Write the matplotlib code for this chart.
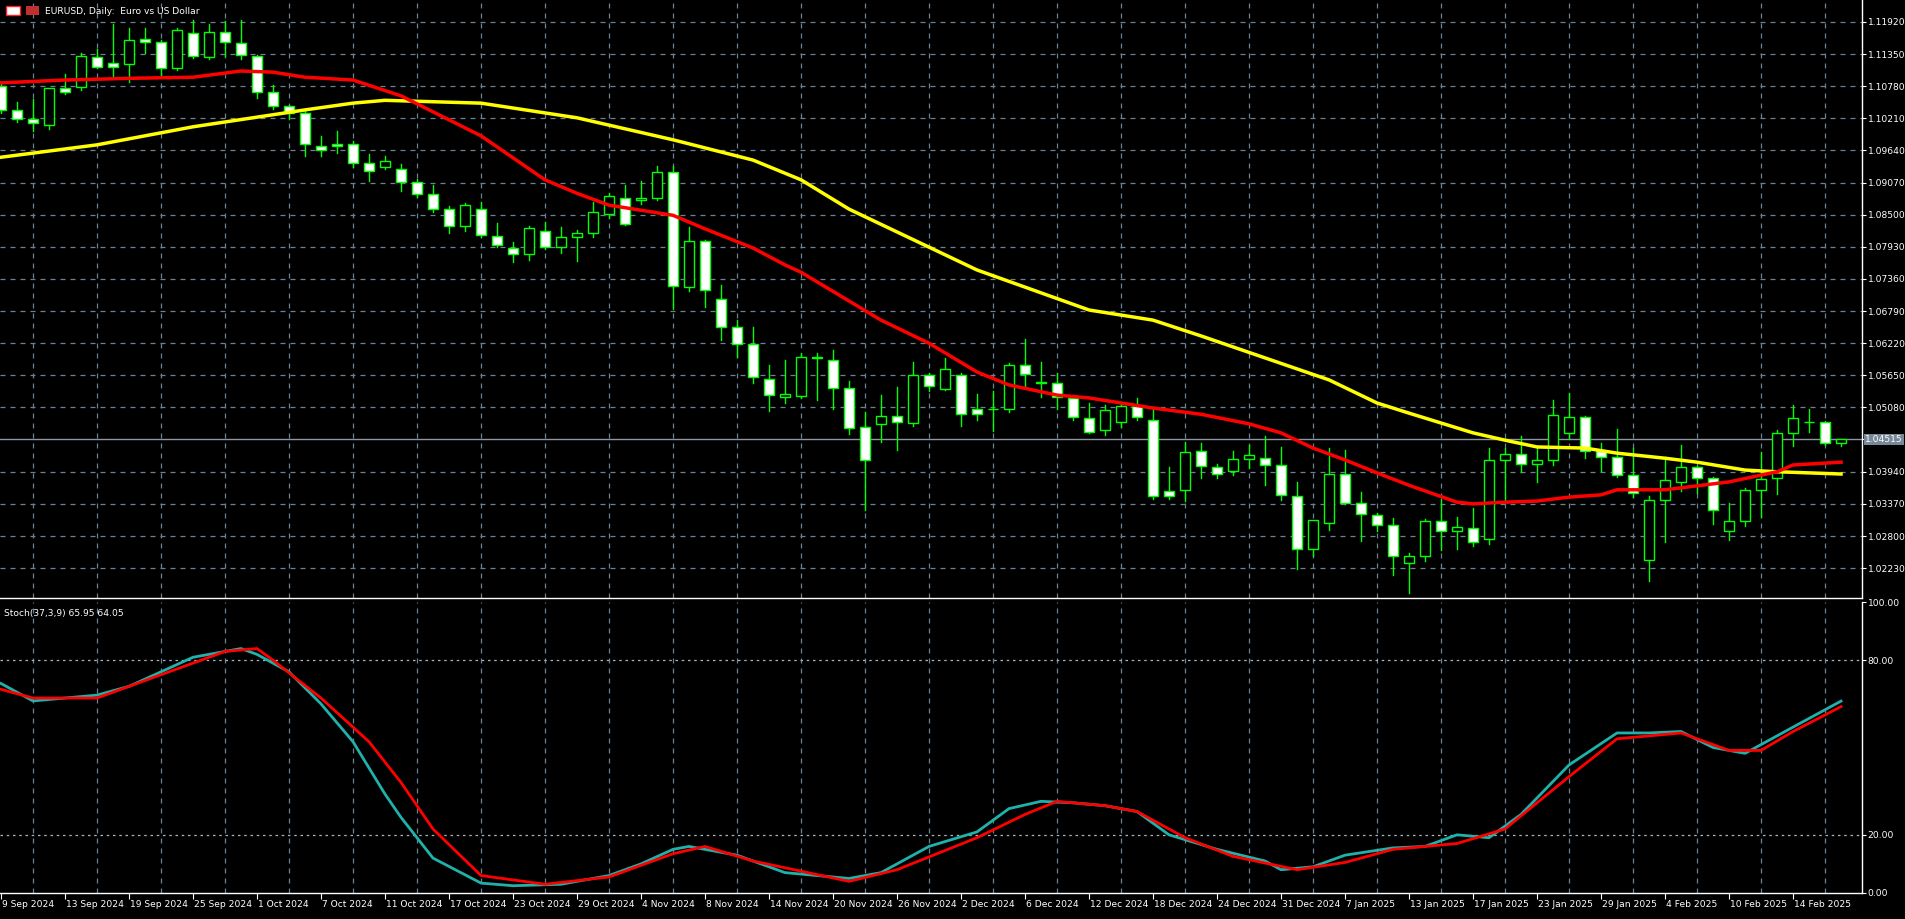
import matplotlib
matplotlib.use("Agg")
import matplotlib.pyplot as plt
from matplotlib.patches import Rectangle

opens = [1.1078,1.1036,1.1020,1.1009,1.1074,1.1076,1.1130,1.1120,1.1118,1.1162,1.1157,1.1111,1.1173,1.1130,1.1174,1.1155,1.1132,1.1067,1.1043,1.1030,
         1.0972,1.0976,1.0976,1.0941,1.0934,1.0931,1.0908,1.0887,1.0860,1.0830,1.0860,1.0812,1.0791,1.0780,1.0821,1.0793,1.0810,1.0817,1.0851,1.0880,
         1.0877,1.0879,1.0926,1.0722,1.0803,1.0700,1.0651,1.0621,1.0559,1.0527,1.0528,1.0598,1.0592,1.0543,1.0473,1.0479,1.0493,1.0481,1.0566,1.0541,
         1.0566,1.0505,1.0505,1.0505,1.0583,1.0553,1.0551,1.0525,1.0489,1.0468,1.0483,1.0510,1.0486,1.0360,1.0362,1.0431,1.0402,1.0395,1.0417,1.0418,
         1.0406,1.0351,1.0257,1.0303,1.0390,1.0339,1.0317,1.0300,1.0232,1.0245,1.0307,1.0289,1.0294,1.0275,1.0415,1.0425,1.0408,1.0415,1.0463,1.0491,
         1.0431,1.0420,1.0388,1.0238,1.0344,1.0376,1.0402,1.0383,1.0289,1.0306,1.0361,1.0383,1.0463,1.0482,1.0482,1.0445]
highs = [1.1085,1.1050,1.1055,1.1075,1.1099,1.1137,1.1144,1.1188,1.1181,1.1181,1.1160,1.1181,1.1195,1.1188,1.1193,1.1195,1.1134,1.1081,1.1045,1.1034,
         1.0990,1.0998,1.0980,1.0958,1.0955,1.0940,1.0914,1.0902,1.0866,1.0870,1.0872,1.0836,1.0802,1.0830,1.0838,1.0828,1.0823,1.0872,1.0889,1.0902,
         1.0909,1.0937,1.0937,1.0828,1.0805,1.0726,1.0664,1.0651,1.0584,1.0592,1.0605,1.0605,1.0610,1.0555,1.0500,1.0530,1.0545,1.0589,1.0570,1.0596,
         1.0570,1.0532,1.0537,1.0587,1.0629,1.0589,1.0569,1.0530,1.0516,1.0513,1.0517,1.0524,1.0508,1.0403,1.0447,1.0445,1.0407,1.0431,1.0442,1.0457,
         1.0438,1.0376,1.0309,1.0436,1.0432,1.0358,1.0320,1.0312,1.0250,1.0310,1.0346,1.0314,1.0329,1.0436,1.0437,1.0457,1.0437,1.0521,1.0533,1.0493,
         1.0445,1.0469,1.0437,1.0351,1.0420,1.0442,1.0404,1.0385,1.0339,1.0366,1.0429,1.0468,1.0513,1.0505,1.0484,1.04515]
lows = [1.1030,1.1015,1.0999,1.1003,1.1064,1.1072,1.1110,1.1095,1.1085,1.1137,1.1098,1.1106,1.1128,1.1126,1.1131,1.1126,1.1057,1.1038,1.1020,1.0955,
        1.0955,1.0960,1.0935,1.0910,1.0931,1.0892,1.0882,1.0855,1.0818,1.0822,1.0810,1.0792,1.0767,1.0770,1.0790,1.0782,1.0768,1.0810,1.0845,1.0832,
        1.0869,1.0876,1.0682,1.0715,1.0686,1.0628,1.0597,1.0552,1.0502,1.0516,1.0525,1.0521,1.0505,1.0461,1.0326,1.0447,1.0433,1.0476,1.0537,1.0539,
        1.0476,1.0486,1.0467,1.0500,1.0544,1.0527,1.0506,1.0485,1.0463,1.0459,1.0473,1.0486,1.0345,1.0345,1.0342,1.0383,1.0383,1.0388,1.0401,1.0370,
        1.0343,1.0221,1.0245,1.0291,1.0336,1.0271,1.0289,1.0211,1.0179,1.0236,1.0255,1.0257,1.0262,1.0265,1.0340,1.0394,1.0376,1.0406,1.0452,1.0418,
        1.0396,1.0385,1.0350,1.0201,1.0269,1.0360,1.0356,1.0302,1.0273,1.0297,1.0314,1.0355,1.0440,1.0464,1.0442,1.0440]
closes = [1.1036,1.1020,1.1013,1.1074,1.1067,1.1132,1.1113,1.1113,1.1160,1.1157,1.1111,1.1178,1.1132,1.1174,1.1157,1.1134,1.1067,1.1043,1.1030,1.0976,
          1.0964,1.0972,1.0941,1.0927,1.0945,1.0908,1.0887,1.0860,1.0830,1.0867,1.0814,1.0796,1.0780,1.0826,1.0793,1.0810,1.0817,1.0855,1.0883,1.0834,
          1.0880,1.0926,1.0724,1.0803,1.0716,1.0651,1.0621,1.0562,1.0530,1.0532,1.0598,1.0596,1.0543,1.0472,1.0415,1.0493,1.0482,1.0566,1.0546,1.0576,
          1.0496,1.0496,1.0505,1.0583,1.0567,1.0552,1.0527,1.0491,1.0465,1.0503,1.0510,1.0491,1.0351,1.0351,1.0429,1.0404,1.0390,1.0417,1.0424,1.0406,
          1.0353,1.0257,1.0308,1.0390,1.0339,1.0319,1.0300,1.0245,1.0245,1.0307,1.0289,1.0296,1.0269,1.0415,1.0425,1.0408,1.0414,1.0495,1.0491,1.0431,
          1.0420,1.0388,1.0356,1.0344,1.0379,1.0402,1.0383,1.0326,1.0306,1.0361,1.0382,1.0463,1.0489,1.0483,1.0445,1.04515]

ma_fast_idx = [0,4,8,12,15,17,19,22,25,30,34,36,38,40,42,44,47,49,50,55,58,61,63,66,68,72,75,78,80,82,84,86,88,91,92,94,96,98,100,101,104,108,111,112,115]
ma_fast = [1.1084,1.1089,1.1092,1.1094,1.1105,1.1103,1.1094,1.1089,1.1061,1.0990,1.0912,1.0888,1.0867,1.0858,1.0849,1.0825,1.0791,1.0761,1.0748,1.0663,
           1.0622,1.0571,1.0548,1.0530,1.0525,1.0507,1.0496,1.0479,1.0463,1.0436,1.0415,1.0392,1.0370,1.0340,1.0337,1.0340,1.0342,1.0349,1.0353,1.0362,
           1.0362,1.0376,1.0394,1.0406,1.0411]
ma_slow_idx = [0,6,12,19,22,24,30,36,42,47,50,53,61,68,72,75,83,86,88,92,94,96,99,101,104,106,109,111,115]
ma_slow = [1.0952,1.0974,1.1006,1.1036,1.1048,1.1053,1.1048,1.1022,1.0983,1.0947,1.0912,1.0860,1.0752,1.0681,1.0663,1.0635,1.0557,1.0516,1.0498,1.0463,
           1.0450,1.0438,1.0436,1.0427,1.0418,1.0411,1.0397,1.0394,1.0390]

stoch_main_idx = [0,2,4,6,8,10,12,14,15,16,18,20,22,24,25,27,30,32,35,38,40,42,43,46,49,53,55,58,61,63,65,67,69,71,73,76,79,80,82,84,87,89,91,93,95,98,101,103,105,107,109,112,115]
stoch_main = [72,66,67,68,71,76,81,83,84,82,76,65,52,34,26,12,3.4,2.5,3,6,10,15,16,13,7,5,7,16,21,29,31.5,31,30,28,20,15,11,8,9,13,15.5,16,20,19,27,44,55,55,55.5,50,48,57,65.95]
stoch_sig_idx = [0,2,6,10,14,16,17,20,23,25,27,30,34,38,42,44,47,53,56,61,64,66,69,71,74,77,81,84,87,91,94,98,101,105,108,110,112,115]
stoch_sig = [70,67,67,75,83,84,80,67,52,38,22,6,3,5.5,13.5,16,11,4,8,19,27,31.5,30,28,19,12.6,8,10.5,15,17,22,40,53,55,49,49,55.5,64.05]

date_idx = list(range(0, 113, 4))
date_labels = ["9 Sep 2024","13 Sep 2024","19 Sep 2024","25 Sep 2024","1 Oct 2024","7 Oct 2024","11 Oct 2024","17 Oct 2024",
               "23 Oct 2024","29 Oct 2024","4 Nov 2024","8 Nov 2024","14 Nov 2024","20 Nov 2024","26 Nov 2024","2 Dec 2024",
               "6 Dec 2024","12 Dec 2024","18 Dec 2024","24 Dec 2024","31 Dec 2024","7 Jan 2025","13 Jan 2025","17 Jan 2025",
               "23 Jan 2025","29 Jan 2025","4 Feb 2025","10 Feb 2025","14 Feb 2025"]
price_ticks = [1.02230,1.02800,1.03370,1.03940,1.04515,1.05080,1.05650,1.06220,1.06790,1.07360,1.07930,1.08500,1.09070,1.09640,1.10210,1.10780,1.11350,1.11920]
current_price = 1.04515

W, H = 1905, 919
fig = plt.figure(figsize=(W/100, H/100), dpi=100, facecolor='black')
axw = 1862/W
ax = fig.add_axes([0, 1-598/H, axw, 598/H], facecolor='black')
ax2 = fig.add_axes([0, (H-893)/H, axw, (893-602)/H], facecolor='black')
grid_c = '#6f8090'
xmin, xmax = -0.06, 116.31
FS = 6.6
for a in (ax, ax2):
    a.set_xlim(xmin, xmax)
    for s in a.spines.values():
        s.set_color('white'); s.set_linewidth(1)
    a.spines['left'].set_visible(False)
    a.spines['top'].set_visible(False)
    for g in range(2, 116, 4):
        a.axvline(g, color=grid_c, ls=(0, (4, 4)), lw=0.9, zorder=0)
    a.yaxis.tick_right()
    a.tick_params(axis='y', colors='white', labelsize=FS, length=3, pad=1)
    a.tick_params(axis='x', colors='white', length=0)
ax.set_xticks([])
ax.set_ylim(1.0170, 1.1231)
ax.set_yticks(price_ticks)
ax.set_yticklabels(["%.5f" % p if p != current_price else "" for p in price_ticks])
for p in price_ticks:
    if p != current_price:
        ax.axhline(p, color=grid_c, ls=(0, (4, 4)), lw=0.9, zorder=0)
ax.axhline(current_price, color='#8a96a3', lw=1, zorder=0.5)
ax.text(1.0015, current_price, "%.5f" % current_price, transform=ax.get_yaxis_transform(), color='white',
        fontsize=FS, va='center', ha='left', clip_on=False,
        bbox=dict(boxstyle='square,pad=0.12', fc='#778899', ec='none'))

bw = 0.62
for i, (o, h, l, c) in enumerate(zip(opens, highs, lows, closes)):
    top, bot = max(o, c), min(o, c)
    ax.plot([i, i], [top, h], color='#00ff00', lw=1, zorder=2)
    ax.plot([i, i], [l, bot], color='#00ff00', lw=1, zorder=2)
    fc = 'white' if c < o else 'black'
    hgt = max(top - bot, 0.00003)
    ax.add_patch(Rectangle((i - bw/2, bot), bw, hgt, fc=fc, ec='#00ff00', lw=1, zorder=3))
ax.plot(ma_slow_idx, ma_slow, color='#ffff00', lw=2.5, zorder=4)
ax.plot(ma_fast_idx, ma_fast, color='#ff0000', lw=2.5, zorder=4)
ax.text(0.024, 0.988, "EURUSD, Daily:  Euro vs US Dollar", transform=ax.transAxes, color='white', fontsize=FS, va='top', ha='left')
ax.add_patch(Rectangle((0.003, 0.975), 0.008, 0.015, transform=ax.transAxes, fc='white', ec='#ff2020', lw=1, zorder=6))
ax.add_patch(Rectangle((0.014, 0.975), 0.007, 0.015, transform=ax.transAxes, fc='#c03030', ec='none', zorder=6))

ax2.set_ylim(0, 100)
ax2.set_yticks([0, 20, 80, 100])
ax2.set_yticklabels(["0.00", "20.00", "80.00", "100.00"])
for v in (20, 80):
    ax2.axhline(v, color='#aab4be', ls=(0, (2, 3)), lw=0.9, zorder=0)
ax2.plot(stoch_main_idx, stoch_main, color='#20b2aa', lw=2, zorder=3)
ax2.plot(stoch_sig_idx, stoch_sig, color='#ff0000', lw=2, zorder=4)
ax2.text(0.002, 0.975, "Stoch(37,3,9) 65.95 64.05", transform=ax2.transAxes, color='white', fontsize=FS, va='top', ha='left')
ax2.set_xticks(date_idx)
ax2.set_xticklabels([])
ax2.tick_params(axis='x', length=4, direction='out', colors='white')
for i, lab in zip(date_idx, date_labels):
    ax2.text(i + 0.05, -2.5, lab, color='white', fontsize=FS, ha='left', va='top', clip_on=False)
fig.savefig("out.png", dpi=100, facecolor='black')
